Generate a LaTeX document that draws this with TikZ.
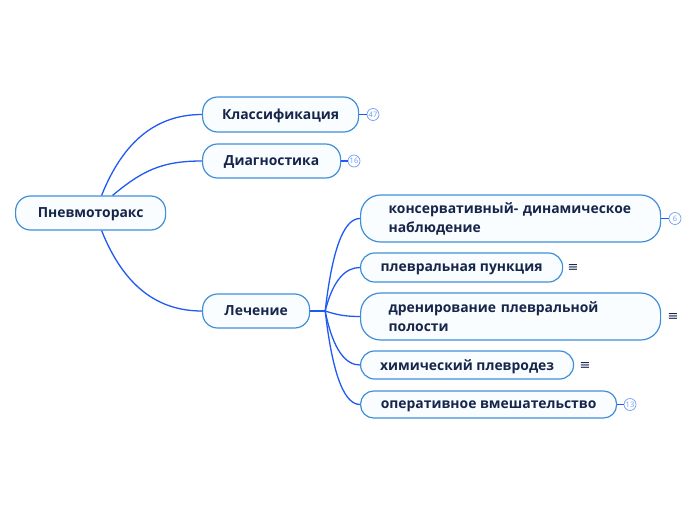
\documentclass[tikz,border=0pt]{standalone}
\usepackage{fontspec}
\setmainfont{Open Sans}
\newfontfamily\symfont{DejaVu Sans}
\usetikzlibrary{positioning}
\definecolor{branch}{HTML}{1F5AF2}
\definecolor{rim}{HTML}{3F8FD8}
\definecolor{ink}{HTML}{16254A}
\definecolor{badgeblue}{HTML}{6F9CF2}
\definecolor{paper}{HTML}{FAFDFF}

\begin{document}
\begin{tikzpicture}[x=1pt,y=-1pt,
      topic/.style={draw=rim,line width=1.2pt,fill=paper,rounded corners=15,
                    inner sep=0pt,anchor=west,text=ink,
                    font=\fontsize{13.9}{19}\selectfont\bfseries},
      oneline/.style={topic,text depth=0.5pt},
      twoline/.style={topic,rounded corners=20,align=left,text width=244},
      edge/.style={draw=branch,line width=1.3pt},
      badge/.style={circle,draw=badgeblue,text=badgeblue,fill=white,
                    line width=0.7pt,minimum size=12,inner sep=0pt,
                    font=\fontsize{7.5}{8}\selectfont},
      menu/.style={text=ink,inner sep=0pt,font=\fontsize{13}{13}\selectfont\symfont},
  ]
  \useasboundingbox (0,0) rectangle (696,520);

  %--- main topics ---
  \node[oneline,minimum width=150,minimum height=34] (root) at (15,213) {Пневмоторакс};
  \node[oneline,minimum width=156,minimum height=35] (klass) at (202,114.5) {Классификация};
  \node[oneline,minimum width=138,minimum height=34] (diag) at (202,161) {Диагностика};
  \node[oneline,minimum width=107,minimum height=34] (lech) at (202,311) {Лечение};

  \draw[edge] ([xshift=11]root.north) .. controls +(22,-55) and +(-45,0) .. (klass.west);
  \draw[edge] ([xshift=22]root.north) .. controls +(30,-25) and +(-40,0) .. (diag.west);
  \draw[edge] ([xshift=11]root.south) .. controls +(22,55) and +(-45,0) .. (lech.west);

  %--- treatment branch ---
  \node[twoline,minimum width=300,minimum height=47] (kons) at (360,218.5)
       {консервативный- динамическое\\наблюдение};
  \node[oneline,minimum width=202,minimum height=29,rounded corners=14] (punk) at (360,267.5)
       {плевральная пункция};
  \node[twoline,minimum width=300,minimum height=47] (dren) at (360,316.5)
       {дренирование плевральной\\полости};
  \node[oneline,minimum width=213,minimum height=28,rounded corners=14] (khim) at (360,365)
       {химический плевродез};
  \node[oneline,minimum width=256,minimum height=27,rounded corners=13] (oper) at (360,404.5)
       {оперативное вмешательство};

  \coordinate (fan) at ([xshift=15]lech.east);
  \draw[edge] (lech.east) -- (fan);
  \draw[edge] (fan) .. controls +(8,-70) and +(-14,0) .. (kons.west);
  \draw[edge] (fan) .. controls +(8,-32) and +(-14,0) .. (punk.west);
  \draw[edge] (fan) .. controls +(12,4) and +(-14,0) .. (dren.west);
  \draw[edge] (fan) .. controls +(8,40) and +(-14,0) .. (khim.west);
  \draw[edge] (fan) .. controls +(8,70) and +(-14,0) .. (oper.west);

  %--- counters and notes ---
  \node[badge] (b47) at (373,114.5) {47};
  \node[badge] (b16) at (354,161) {16};
  \node[badge] (b6) at (675,218.5) {6};
  \node[badge] (b13) at (630,404.5) {13};
  \draw[edge] (klass.east) -- (b47);
  \draw[edge] (diag.east) -- (b16);
  \draw[edge] (kons.east) -- (b6);
  \draw[edge] (oper.east) -- (b13);

  \node[menu] (m1) at (573,268) {≡};
  \node[menu] (m2) at (673,317) {≡};
  \node[menu] (m3) at (585,366) {≡};
\end{tikzpicture}
\end{document}
